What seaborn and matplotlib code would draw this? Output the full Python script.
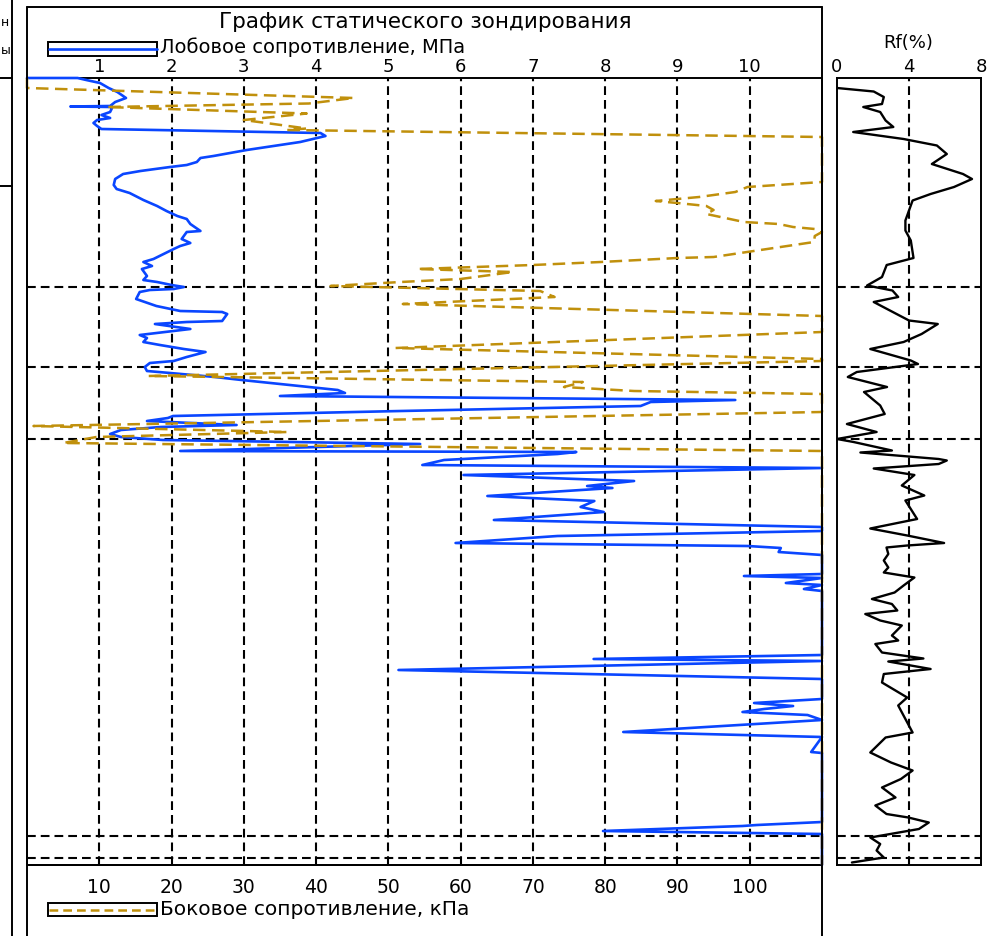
import numpy as np
import pandas as pd
import matplotlib
matplotlib.use("Agg")
import matplotlib.pyplot as plt
import seaborn as sns
from matplotlib.lines import Line2D
from matplotlib.patches import Rectangle

# ---------------- data (depth in m, downward) ----------------
qc_depth = [0.00, 0.00, 0.04, 0.10, 0.20, 0.28, 0.40, 0.48, 0.56, 0.57, 0.58, 0.62, 0.68, 0.74,
            0.80, 0.84, 0.90, 0.96, 1.02, 1.10, 1.16, 1.28, 1.44, 1.56, 1.60, 1.68, 1.74, 1.78,
            1.86, 1.92, 2.02, 2.14, 2.22, 2.30, 2.44, 2.56, 2.66, 2.76, 2.82, 2.92, 3.06, 3.08,
            3.22, 3.30, 3.36, 3.42, 3.52, 3.62, 3.68, 3.76, 3.82, 3.96, 4.04, 4.08, 4.14, 4.18,
            4.22, 4.24, 4.28, 4.42, 4.56, 4.66, 4.68, 4.72, 4.86, 4.88, 4.92, 5.02, 5.06, 5.14,
            5.20, 5.28, 5.34, 5.42, 5.48, 5.58, 5.66, 5.70, 5.78, 5.86, 5.90, 5.98, 6.04, 6.18,
            6.24, 6.30, 6.36, 6.44, 6.48, 6.56, 6.66, 6.76, 6.80, 6.86, 6.94, 6.98, 7.04, 7.12,
            7.18, 7.24, 7.32, 7.46, 7.48, 7.52, 7.64, 7.74, 7.80, 7.94, 8.06, 8.16, 8.20, 8.36,
            8.46, 8.58, 8.68, 8.84, 8.98, 9.06, 9.16, 9.30, 9.36, 9.40, 9.48, 9.54, 9.92, 9.96,
            10.00, 10.10, 10.14, 10.22, 10.26, 11.54, 11.62, 11.66, 11.84, 12.02, 12.42, 12.50,
            12.56, 12.62, 12.68, 12.74, 12.84, 13.08, 13.18, 13.48, 13.50, 14.88, 14.94, 14.96,
            15.06, 15.12, 15.74]
qc_mpa = [0.00, 0.70, 0.82, 1.01, 1.13, 1.25, 1.37, 1.22, 1.15, 0.60, 1.18, 1.17, 1.15, 1.03,
          1.15, 0.97, 0.92, 0.97, 1.03, 4.06, 4.13, 3.78, 3.04, 2.58, 2.40, 2.35, 2.21, 1.98,
          1.57, 1.33, 1.22, 1.20, 1.24, 1.42, 1.61, 1.80, 1.93, 2.08, 2.21, 2.26, 2.40, 2.21,
          2.14, 2.26, 2.12, 2.03, 1.89, 1.75, 1.61, 1.73, 1.59, 1.66, 1.61, 1.80, 2.00, 2.17,
          2.03, 1.70, 1.56, 1.51, 1.79, 2.12, 2.70, 2.77, 2.70, 2.21, 1.77, 2.26, 2.03, 1.56,
          1.66, 1.61, 1.84, 2.17, 2.47, 2.21, 2.03, 1.70, 1.63, 1.66, 1.98, 2.60, 2.97, 3.90,
          4.30, 4.40, 3.50, 9.80, 8.63, 8.49, 5.17, 2.02, 1.95, 1.66, 2.90, 1.85, 1.30, 1.15,
          1.30, 1.88, 5.44, 2.12, 7.60, 7.34, 5.77, 5.47, 11.0, 6.04, 8.40, 7.75, 8.10, 6.37,
          7.85, 7.66, 7.98, 6.46, 11.0, 11.0, 7.34, 5.93, 9.97, 10.43, 10.40, 11.0, 11.0, 9.92,
          11.0, 10.50, 11.0, 10.75, 11.0, 11.0, 7.84, 11.0, 5.14, 11.0, 11.0, 10.06,
          10.60, 10.20, 9.90, 10.80, 11.0, 8.25, 11.0, 10.85, 11.0, 11.0, 10.10, 9.90,
          7.97, 11.0, 11.0]

fs_depth = [0.00, 0.20, 0.40, 0.51, 0.58, 0.71, 0.84, 1.01, 1.04, 1.18, 2.08, 2.18, 2.28, 2.38,
            2.46, 2.50, 2.56, 2.64, 2.72, 2.88, 2.92, 2.98, 3.02, 3.08, 3.16, 3.28, 3.58, 3.60,
            3.68, 3.74, 3.82, 3.88, 4.02, 4.08, 4.16, 4.26, 4.38, 4.52, 4.76, 5.08, 5.40, 5.62,
            5.66, 5.96, 6.08, 6.18, 6.26, 6.32, 6.68, 6.96, 7.08, 7.18, 7.30, 7.46, 15.74]
fs_kpa = [0.0, 0.0, 45.2, 39.0, 11.0, 38.7, 30.0, 38.7, 36.0, 110, 110, 99.7, 98.0, 93.0,
          87.0, 90.0, 94.0, 95.0, 94.0, 99.2, 104.0, 106.0, 109.0, 110, 109.0, 108.9, 95.0, 90.0,
          79.4, 70.0, 54.0, 67.2, 60.0, 51.7, 42.0, 71.0, 73.0, 52.0, 110, 110, 51.0, 110,
          110, 16.8, 76.9, 74.3, 84.0, 110, 110, 0.9, 36.0, 9.6, 5.0, 110, 110]

rf_depth = [0.20, 0.27, 0.38, 0.52, 0.58, 0.68, 0.85, 0.98, 1.08, 1.22, 1.35, 1.52, 1.72, 1.92,
            2.02, 2.18, 2.32, 2.45, 2.65, 2.85, 3.05, 3.25, 3.60, 3.74, 3.98, 4.15, 4.25, 4.38,
            4.48, 4.85, 4.92, 5.12, 5.28, 5.42, 5.65, 5.72, 5.88, 5.98, 6.18, 6.28, 6.55, 6.72,
            6.92, 7.08, 7.22, 7.28, 7.45, 7.49, 7.62, 7.65, 7.72, 7.81, 7.94, 8.15, 8.35, 8.45,
            8.82, 9.01, 9.15, 9.30, 9.35, 9.39, 9.52, 9.65, 9.79, 9.89, 9.99, 10.15, 10.29, 10.42,
            10.52, 10.65, 10.72, 10.85, 10.95, 11.15, 11.25, 11.32, 11.49, 11.61, 11.67, 11.82,
            11.92, 12.09, 12.39, 12.55, 13.09, 13.19, 13.49, 13.69, 13.85, 14.02, 14.19, 14.39,
            14.55, 14.72, 14.79, 14.89, 15.02, 15.19, 15.32, 15.45, 15.59, 15.69]
rf_pct = [0.0, 2.04, 2.6, 2.5, 1.46, 2.4, 2.7, 3.13, 0.9, 3.7, 5.55, 6.1, 5.27, 7.0,
          7.5, 6.5, 5.2, 4.2, 4.0, 3.8, 3.8, 4.1, 4.25, 2.76, 2.5, 1.67, 3.08, 3.4,
          2.04, 4.0, 5.6, 4.7, 3.7, 1.85, 4.1, 4.5, 1.1, 0.6, 2.78, 1.5, 2.4, 2.65,
          0.55, 2.2, 0.0, 0.92, 3.05, 1.3, 5.65, 6.1, 5.65, 2.04, 4.3, 3.6, 4.85, 3.8,
          4.45, 1.85, 3.9, 5.95, 3.9, 2.75, 2.85, 2.6, 2.85, 2.6, 4.3, 3.7, 3.2, 1.94,
          3.05, 3.35, 1.57, 2.4, 3.6, 3.05, 3.4, 2.13, 2.5, 4.8, 2.85, 5.2,
          2.6, 2.5, 3.9, 3.4, 4.2, 2.7, 1.85, 3.0, 4.2, 3.55, 2.5, 3.25,
          2.13, 2.75, 3.96, 5.1, 4.55, 1.85, 2.4, 2.2, 2.6, 0.83]

layer_bounds = [4.18, 5.78, 7.22, 15.16, 15.60]
qc_ticks = [1, 2, 3, 4, 5, 6, 7, 8, 9, 10]
fs_ticks = [10, 20, 30, 40, 50, 60, 70, 80, 90, 100]
rf_ticks = [0, 4, 8]

title = "График статического зондирования"
qc_label = "Лобовое сопротивление, МПа"
fs_label = "Боковое сопротивление, кПа"
rf_title = "Rf(%)"

DEPTH_MAX = 15.74
BLUE = "#0a46ff"
GOLD = "#c0900c"

# ---------------- figure ----------------
sns.set_theme(style="white")
plt.rcParams["font.family"] = ["DejaVu Sans"]
plt.rcParams["axes.edgecolor"] = "black"

W, H = 998, 937
fig = plt.figure(figsize=(W / 100, H / 100), dpi=100)
fig.patch.set_facecolor("white")


def fx(px):
    return px / W


def fy(py):
    return 1 - py / H


ax = fig.add_axes([fx(27), fy(866), (822 - 27) / W, (866 - 79) / H])
axr = fig.add_axes([fx(837), fy(866), (981 - 837) / W, (866 - 79) / H])

grid_kw = dict(color="black", lw=1.5, linestyle=(0, (4.2, 2.4)), zorder=1)

# main panel
for t in qc_ticks:
    ax.axvline(t, **grid_kw)
for b in layer_bounds:
    ax.axhline(b, **grid_kw)

qc_df = pd.DataFrame({"qc": qc_mpa, "depth": qc_depth})
fs_df = pd.DataFrame({"fs": np.array(fs_kpa) / 10.0, "depth": fs_depth})
sns.lineplot(data=qc_df, x="qc", y="depth", sort=False, estimator=None, ax=ax,
             color=BLUE, lw=1.9, clip_on=False, zorder=3)
sns.lineplot(data=fs_df, x="fs", y="depth", sort=False, estimator=None, ax=ax,
             color=GOLD, lw=1.8, linestyle=(0, (5.0, 2.6)), clip_on=False, zorder=4)

ax.set_xlim(0, 11)
ax.set_ylim(DEPTH_MAX, 0)
ax.set_xlabel("")
ax.set_ylabel("")
ax.set_yticks([])
ax.set_xticks(qc_ticks)
ax.set_xticklabels([str(t) for t in qc_ticks])
ax.xaxis.tick_top()
ax.tick_params(axis="x", length=0, pad=2, labelsize=13, colors="black")
for s in ax.spines.values():
    s.set_color("black")
    s.set_linewidth(1.4)

sec = ax.secondary_xaxis("bottom", functions=(lambda v: v * 10, lambda v: v / 10))
sec.set_xticks(fs_ticks)
sec.set_xticklabels([str(t) for t in fs_ticks])
sec.tick_params(length=0, pad=9, labelsize=13.5, colors="black")
sec.spines["bottom"].set_linewidth(1.4)

# Rf panel
axr.axvline(4, **grid_kw)
for b in layer_bounds:
    axr.axhline(b, **grid_kw)
rf_df = pd.DataFrame({"rf": rf_pct, "depth": rf_depth})
sns.lineplot(data=rf_df, x="rf", y="depth", sort=False, estimator=None, ax=axr,
             color="black", lw=1.7, zorder=3)
axr.set_xlim(0, 8)
axr.set_ylim(DEPTH_MAX, 0)
axr.set_xlabel("")
axr.set_ylabel("")
axr.set_yticks([])
axr.set_xticks(rf_ticks)
axr.set_xticklabels([str(t) for t in rf_ticks])
axr.xaxis.tick_top()
axr.tick_params(axis="x", length=0, pad=2, labelsize=13, colors="black")
for s in axr.spines.values():
    s.set_color("black")
    s.set_linewidth(1.4)

# ---------------- frame & decorations ----------------
def fline(x0, y0, x1, y1, **kw):
    kw.setdefault("color", "black")
    kw.setdefault("lw", 1.4)
    fig.add_artist(Line2D([fx(x0), fx(x1)], [fy(y0), fy(y1)], **kw))


fline(27, 8, 822, 8)
fline(27, 8, 27, 937)
fline(822, 8, 822, 937)
fline(12, 0, 12, 937)
fline(0, 79, 12, 79)
fline(0, 187, 12, 187)

# remnants of the neighbouring column (kept fully inside the canvas)
fig.text(fx(1), fy(22), "н", ha="left", va="center", fontsize=9, color="black")
fig.text(fx(1), fy(50), "ы", ha="left", va="center", fontsize=9, color="black")

fig.text(fx(425), fy(22), title, ha="center", va="center", fontsize=15.5, color="black")
fig.text(fx(160), fy(47.5), qc_label, ha="left", va="center", fontsize=14, color="black")
fig.text(fx(160), fy(910), fs_label, ha="left", va="center", fontsize=14.5, color="black")
fig.text(fx(908), fy(43), rf_title, ha="center", va="center", fontsize=13, color="black")

# legend swatches
fig.add_artist(Rectangle((fx(48), fy(57)), (157 - 48) / W, 14 / H, fill=False,
                         edgecolor="black", lw=1.4))
fline(49, 50, 157, 50, color=BLUE, lw=1.9)
fig.add_artist(Rectangle((fx(48), fy(917)), (157 - 48) / W, 13 / H, fill=False,
                         edgecolor="black", lw=1.4))
fline(49, 910.5, 157, 910.5, color=GOLD, lw=1.8, linestyle=(0, (3.5, 2.0)))

fig.savefig("out.png", dpi=100, facecolor="white")
